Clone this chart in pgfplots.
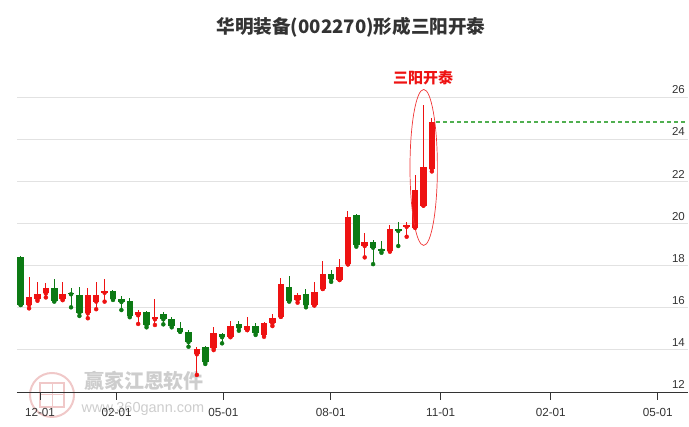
\documentclass[border=0pt]{standalone}
\usepackage{pgfplots}
\pgfplotsset{compat=1.18}
\usepackage{pgfplotstable}
\usepackage{fontspec}
\setmainfont{Liberation Sans}
\newfontfamily\cjk{Noto Sans CJK SC}
\definecolor{upred}{RGB}{238,18,18}
\definecolor{dngreen}{RGB}{12,122,20}
\definecolor{txt}{RGB}{51,51,51}
\definecolor{gridc}{RGB}{226,226,226}
\definecolor{dashg}{RGB}{80,175,80}
\definecolor{wm}{RGB}{205,205,205}
\definecolor{wmred}{RGB}{240,200,200}

% red (up) candles: index, open, high, low, close
\pgfplotstableread{
i o h l c
1 16.13 17.47 15.97 16.49
2 16.41 17.21 16.33 16.65
3 16.68 17.16 16.49 16.92
5 16.40 17.21 16.36 16.65
8 15.73 16.92 15.50 16.60
9 16.29 17.21 15.93 16.60
10 16.71 17.36 16.29 16.81
14 15.64 15.89 15.23 15.80
16 15.45 16.41 15.18 15.56
21 13.79 14.12 12.81 14.03
23 14.07 15.10 13.99 14.79
25 14.62 15.38 14.60 15.15
27 14.94 15.55 14.94 15.15
29 14.71 15.34 14.62 15.26
30 15.26 15.70 15.13 15.53
31 15.57 17.40 15.57 17.13
33 16.37 16.71 16.24 16.60
35 16.11 17.23 16.11 16.73
36 16.89 18.22 16.89 17.59
38 17.32 18.31 17.32 17.93
39 18.06 20.58 18.06 20.32
41 18.93 19.56 18.39 19.10
44 18.71 19.92 18.66 19.75
46 19.84 20.07 19.37 19.91
47 19.80 22.28 19.80 21.60
48 20.85 25.61 20.85 22.70
49 22.59 24.99 22.47 24.82
}\uptable

% green (down) candles: index, open, high, low, close
\pgfplotstableread{
i o h l c
0 18.39 18.45 16.13 16.13
4 16.92 17.36 16.29 16.32
6 16.71 16.92 16.02 16.64
7 16.60 16.97 15.61 15.76
11 16.79 16.84 16.37 16.40
12 16.43 16.56 15.89 16.27
13 16.33 16.45 15.55 15.62
15 15.80 15.84 15.07 15.18
17 15.69 15.78 15.21 15.45
18 15.45 15.57 15.07 15.13
19 15.05 15.31 14.86 14.86
20 14.85 14.94 14.15 14.37
22 14.12 14.18 13.33 13.41
24 14.75 14.81 14.31 14.60
26 15.23 15.37 14.91 15.05
28 15.13 15.26 14.71 14.81
32 17.00 17.51 16.29 16.32
34 16.64 16.87 16.02 16.11
37 17.59 17.79 17.23 17.36
40 20.38 20.43 18.90 18.98
42 19.12 19.21 18.07 18.85
43 18.80 19.17 18.61 18.71
45 19.75 20.07 18.93 19.64
}\dntable

\begin{document}
\begin{tikzpicture}
\useasboundingbox (0,0) rectangle (689pt,427pt);
% title
\node[text=txt, font=\cjk\bfseries\fontsize{18.6}{22}\selectfont] at (351pt,400pt) {华明装备(002270)形成三阳开泰};
% watermark
\draw[wmred, line width=2pt] (52pt,32pt) circle [radius=22pt];
\draw[wmred, line width=1.2pt] (40pt,20pt) rectangle (64pt,44pt);
\draw[wmred, line width=1pt] (40pt,32pt) -- (64pt,32pt) (52pt,20pt) -- (52pt,44pt);
\node[text=wm, font=\cjk\bfseries\fontsize{20}{24}\selectfont] at (144pt,46pt) {赢家江恩软件};
\node[text=wm, font=\fontsize{14.5}{17}\selectfont] at (143pt,18pt) {www.360gann.com};
\begin{axis}[
  at={(17pt,35pt)}, anchor=south west,
  scale only axis, width=671pt, height=332pt,
  xmin=-0.44, xmax=79.53, ymin=12, ymax=27.76,
  axis x line*=bottom, axis y line*=right,
  axis line style={-},
  y axis line style={draw=none},
  x axis line style={draw=txt, line width=0.8pt},
  ymajorgrids, grid style={gridc, line width=0.8pt},
  ytick={12,14,16,18,20,22,24,26},
  ytick style={draw=none},
  yticklabel style={anchor=south east, xshift=-10pt, yshift=2pt, inner sep=1pt, text=txt, font=\fontsize{11.5}{13}\selectfont},
  xtick={2.30,11.44,24.15,36.95,50.06,63.17,75.92},
  xticklabels={12-01,02-01,05-01,08-01,11-01,02-01,05-01},
  xtick style={draw=txt, line width=0.8pt},
  tick align=outside, major tick length=8pt,
  xticklabel style={text=txt, yshift=-5pt, font=\fontsize{11.7}{13}\selectfont},
  /pgf/number format/assume math mode=true,
  clip=false,
]
% wicks
\addplot[upred, only marks, mark=none, forget plot,
  error bars/.cd, y dir=plus, y explicit, error mark=none,
  error bar style={line width=1pt, upred}]
  table[x=i, y=l, y error plus expr=\thisrow{h}-\thisrow{l}] {\uptable};
\addplot[dngreen, only marks, mark=none, forget plot,
  error bars/.cd, y dir=plus, y explicit, error mark=none,
  error bar style={line width=1pt, dngreen}]
  table[x=i, y=l, y error plus expr=\thisrow{h}-\thisrow{l}] {\dntable};
% bodies
\addplot[upred, only marks, mark=none, forget plot,
  error bars/.cd, y dir=plus, y explicit, error mark=none,
  error bar style={line width=6.5pt, upred}]
  table[x=i, y=o, y error plus expr=\thisrow{c}-\thisrow{o}] {\uptable};
\addplot[dngreen, only marks, mark=none, forget plot,
  error bars/.cd, y dir=plus, y explicit, error mark=none,
  error bar style={line width=6.5pt, dngreen}]
  table[x=i, y=c, y error plus expr=\thisrow{o}-\thisrow{c}] {\dntable};
% last close level
\addplot[dashg, line width=1.2pt, dash pattern=on 4pt off 3pt, forget plot]
  coordinates {(49.5,24.82) (79.53,24.82)};
% highlight
\draw[upred!85, line width=0.7pt] (axis cs:48.03,22.66) ellipse [x radius=13.7pt, y radius=78pt];
\node[text=upred, font=\cjk\bfseries\fontsize{15}{18}\selectfont] at (axis cs:47.95,26.9) {三阳开泰};
\end{axis}
\end{tikzpicture}
\end{document}
